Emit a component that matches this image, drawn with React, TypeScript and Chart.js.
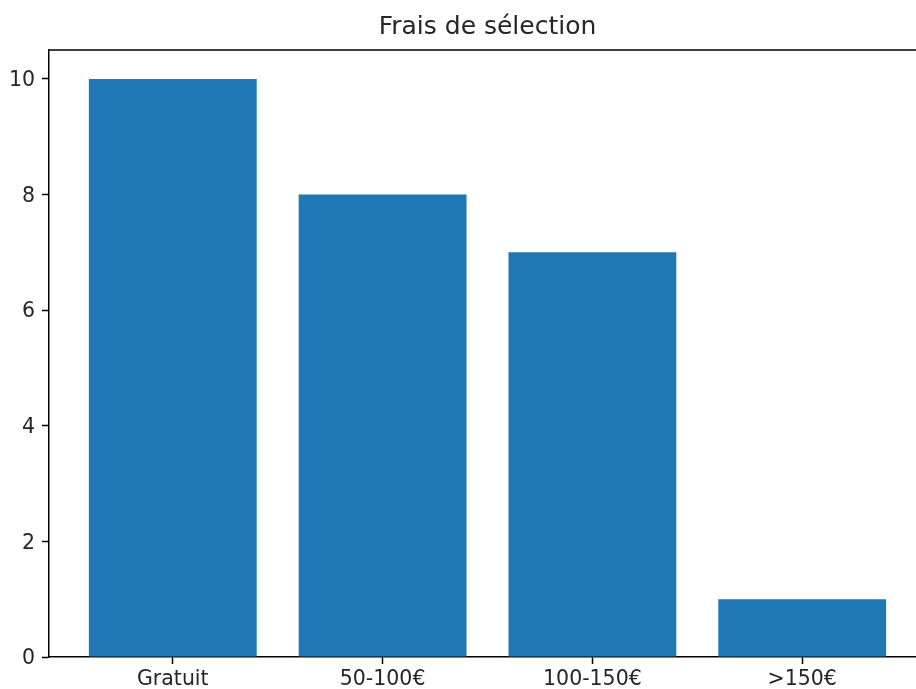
import React, { useEffect, useRef } from "react";
import { Chart, registerables } from "chart.js";

Chart.register(...registerables);

const categories: string[] = ["Gratuit", "50-100€", "100-150€", ">150€"];
const values: number[] = [10, 8, 7, 1];
const yTicks: number[] = [0, 2, 4, 6, 8, 10];
const titleText = "Frais de sélection";

const FONT = "'DejaVu Sans', 'Liberation Sans', sans-serif";
const TEXT = "#262626";

const spinePlugin = {
  id: "spines",
  afterDraw(chart: any) {
    const { ctx, chartArea } = chart;
    ctx.save();
    ctx.strokeStyle = "#000";
    ctx.lineWidth = 1.5;
    ctx.beginPath();
    ctx.moveTo(chartArea.left, chartArea.top);
    ctx.lineTo(chartArea.right, chartArea.top);
    ctx.lineTo(chartArea.right, chartArea.bottom);
    ctx.stroke();
    ctx.restore();
  },
};

export default function App() {
  const ref = useRef<HTMLCanvasElement | null>(null);

  useEffect(() => {
    if (!ref.current) return;
    const chart = new Chart(ref.current, {
      type: "bar",
      data: {
        datasets: [
          {
            data: values.map((v, i) => ({ x: i, y: v })),
            backgroundColor: "#1f77b4",
            borderWidth: 0,
            barPercentage: 0.8,
            categoryPercentage: 1,
          },
        ],
      },
      options: {
        responsive: false,
        animation: false,
        layout: { padding: { left: 0, right: 4, top: 0, bottom: 0 } },
        plugins: {
          legend: { display: false },
          tooltip: { enabled: false },
          title: {
            display: true,
            fullSize: false,
            text: titleText,
            color: TEXT,
            font: { family: FONT, size: 25, weight: "normal" },
            padding: { top: 12, bottom: 8 },
          },
        },
        scales: {
          x: {
            type: "linear",
            offset: false,
            min: -0.59,
            max: 3.59,
            afterBuildTicks: (scale: any) => {
              scale.ticks = categories.map((_, i) => ({ value: i }));
            },
            afterFit: (scale: any) => {
              scale.height = 32;
            },
            grid: {
              display: true,
              offset: false,
              drawOnChartArea: false,
              drawTicks: true,
              tickLength: 7,
              tickWidth: 1.5,
              tickColor: "#000",
            },
            border: { display: true, color: "#000", width: 1.5 },
            ticks: {
              color: TEXT,
              padding: 3,
              maxRotation: 0,
              autoSkip: false,
              font: { family: FONT, size: 20.5 },
              callback: (v: any) => categories[Math.round(Number(v))] ?? "",
            },
          },
          y: {
            type: "linear",
            min: 0,
            max: 10.5,
            afterBuildTicks: (scale: any) => {
              scale.ticks = yTicks.map((v) => ({ value: v }));
            },
            afterFit: (scale: any) => {
              scale.width = 49;
            },
            grid: {
              display: true,
              drawOnChartArea: false,
              drawTicks: true,
              tickLength: 7,
              tickWidth: 1.5,
              tickColor: "#000",
            },
            border: { display: true, color: "#000", width: 1.5 },
            ticks: {
              color: TEXT,
              padding: 7,
              labelOffset: 2,
              font: { family: FONT, size: 20.5 },
              callback: (v: any) => String(v),
            },
          },
        },
      },
      plugins: [spinePlugin],
    } as any);
    return () => chart.destroy();
  }, []);

  return (
    <div
      style={{
        position: "fixed",
        left: 0,
        top: 0,
        width: 916,
        height: 689,
        overflow: "hidden",
        background: "#fff",
      }}
    >
      <canvas ref={ref} width={930} height={689} style={{ width: 930, height: 689, display: "block" }} />
    </div>
  );
}
